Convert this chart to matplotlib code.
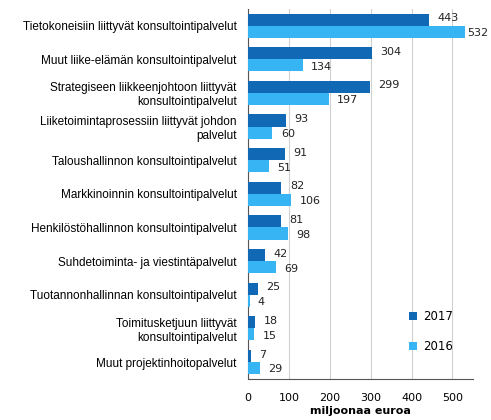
import matplotlib
matplotlib.use("Agg")
import matplotlib.pyplot as plt
import numpy as np

categories = [
    "Tietokoneisiin liittyvät konsultointipalvelut",
    "Muut liike-elämän konsultointipalvelut",
    "Strategiseen liikkeenjohtoon liittyvät\nkonsultointipalvelut",
    "Liiketoimintaprosessiin liittyvät johdon\npalvelut",
    "Taloushallinnon konsultointipalvelut",
    "Markkinoinnin konsultointipalvelut",
    "Henkilöstöhallinnon konsultointipalvelut",
    "Suhdetoiminta- ja viestintäpalvelut",
    "Tuotannonhallinnan konsultointipalvelut",
    "Toimitusketjuun liittyvät\nkonsultointipalvelut",
    "Muut projektinhoitopalvelut",
]
values_2017 = [443, 304, 299, 93, 91, 82, 81, 42, 25, 18, 7]
values_2016 = [532, 134, 197, 60, 51, 106, 98, 69, 4, 15, 29]
xticks = [0, 100, 200, 300, 400, 500]

plt.rcParams['font.family'] = ['Liberation Sans', 'DejaVu Sans']
numfont = ['DejaVu Sans']

fig = plt.figure(figsize=(4.91, 4.2), dpi=100)
ax = fig.add_axes([0.505, 0.098, 0.458, 0.881])

c17 = '#1169b6'
c16 = '#36b4f4'
n = len(categories)
y = np.arange(n)
h = 0.36
xmax = 550
ax.barh(y - h/2, values_2017, height=h, color=c17, label='2017', zorder=3)
ax.barh(y + h/2, values_2016, height=h, color=c16, label='2016', zorder=3)

def off(v):
    return 1 if v > xmax - 40 else 6

for yi, v in zip(y, values_2017):
    ax.annotate(str(v), (v, yi - h/2), xytext=(off(v), 1), textcoords='offset points',
                va='center', ha='left', fontsize=8, color='#222222', family=numfont)
for yi, v in zip(y, values_2016):
    ax.annotate(str(v), (v, yi + h/2), xytext=(off(v), -1), textcoords='offset points',
                va='center', ha='left', fontsize=8, color='#222222', family=numfont)

ax.set_ylim(n - 0.5, -0.5)
ax.set_xlim(0, xmax)
ax.set_yticks(y)
ax.set_yticklabels(categories, fontsize=8.5)
ax.set_xticks(xticks)
ax.set_xticklabels([str(t) for t in xticks], fontsize=8, family=numfont)
ax.tick_params(axis='y', length=0, pad=8)
ax.tick_params(axis='x', length=0, pad=10)
ax.grid(axis='x', color='#d0d0d0', linewidth=0.8, zorder=0)
for s in ['top', 'right']:
    ax.spines[s].set_visible(False)
ax.spines['left'].set_color('#555555')
ax.spines['bottom'].set_color('#555555')
ax.set_xlabel('miljoonaa euroa', fontsize=8, fontweight='bold', labelpad=2, family=numfont)

leg = ax.legend(loc='lower right', bbox_to_anchor=(0.96, 0.04), frameon=False,
                prop={'family': numfont, 'size': 8.5}, handlelength=0.7, handleheight=0.7,
                labelspacing=1.45, handletextpad=0.5)

fig.savefig('out.png', dpi=100)
